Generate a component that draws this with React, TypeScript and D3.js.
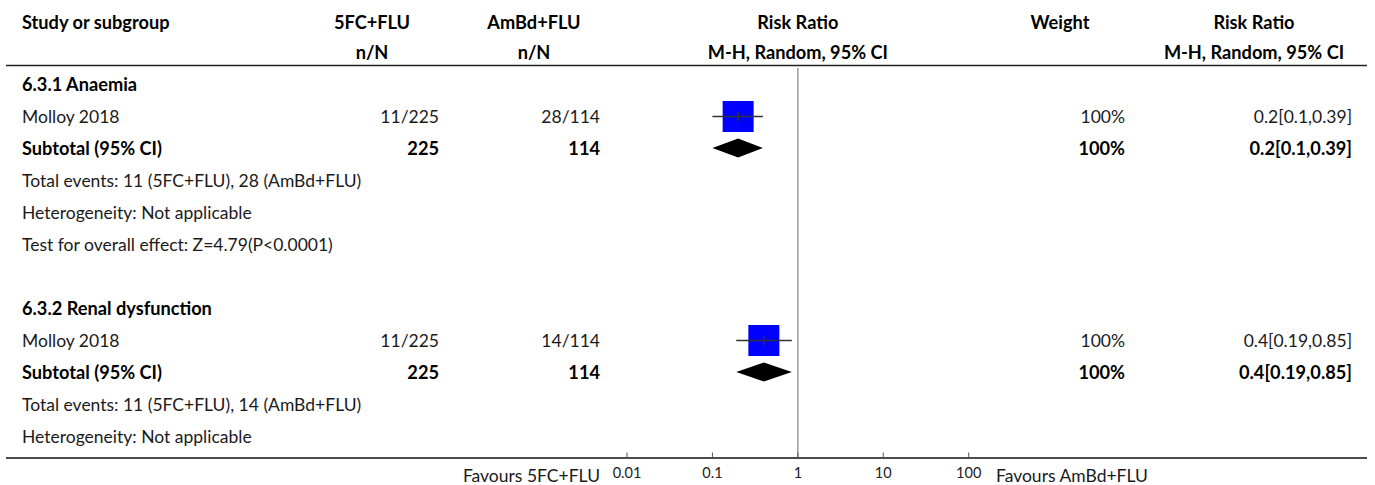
import React from "react";
import * as d3 from "d3";

// ---------- data ----------
const groupTitles = ["6.3.1 Anaemia", "6.3.2 Renal dysfunction"];
const studyNames = ["Molloy 2018", "Molloy 2018"];
const eventsExp = [11, 11];
const totalExp = [225, 225];
const eventsCtl = [28, 14];
const totalCtl = [114, 114];
const weights = [100, 100];
const riskRatios = [0.2, 0.4];
const ciLower = [0.1, 0.19];
const ciUpper = [0.39, 0.85];
const subtotalRR = [0.2, 0.4];
const subtotalLower = [0.1, 0.19];
const subtotalUpper = [0.39, 0.85];
const totalEventsText = [
  "Total events: 11 (5FC+FLU), 28 (AmBd+FLU)",
  "Total events: 11 (5FC+FLU), 14 (AmBd+FLU)",
];
const heterogeneityText = ["Heterogeneity: Not applicable", "Heterogeneity: Not applicable"];
const overallEffectText = ["Test for overall effect: Z=4.79(P<0.0001)", null];
const axisTicks = [0.01, 0.1, 1, 10, 100];
const axisTickLabels = ["0.01", "0.1", "1", "10", "100"];
const favoursLeft = "Favours 5FC+FLU";
const favoursRight = "Favours AmBd+FLU";

// ---------- layout ----------
const W = 1375;
const H = 485;
const FONT = "Lato, 'Source Sans Pro', sans-serif";
const FS = 17.5;
const FSB = 18.2;
const xLeft = 22;
const xExpRight = 439;
const xExpHead = 372;
const xCtlRight = 600;
const xCtlHead = 534;
const xWeightRight = 1125;
const xWeightHead = 1060;
const xRRRight = 1352;
const xRRHead = 1254;
const rowTop = 91;
const rowH = 32;

export default function App() {
  const x = d3.scaleLog().domain([0.01, 100]).range([627, 968.7]);
  const sq = d3.scaleSqrt().domain([0, 100]).range([0, 31]);
  const fmt = (v: number) => String(v);

  type Row = { kind: string; g: number; text?: string };
  const rows: Row[] = [];
  groupTitles.forEach((t, g) => {
    if (g > 0) rows.push({ kind: "blank", g });
    rows.push({ kind: "title", g, text: t });
    rows.push({ kind: "study", g });
    rows.push({ kind: "subtotal", g });
    rows.push({ kind: "note", g, text: totalEventsText[g] });
    rows.push({ kind: "note", g, text: heterogeneityText[g] });
    if (overallEffectText[g]) rows.push({ kind: "note", g, text: overallEffectText[g] as string });
  });

  const yOf = (i: number) => rowTop + i * rowH;
  const lastY = yOf(rows.length - 1);
  const bottomLineY = lastY + 15;
  const x1 = x(1);

  const textStyle = { fontFamily: FONT, fontSize: FS, fill: "#1a1a1a" };
  const bold = { fontFamily: FONT, fontSize: FSB, fontWeight: 700, fill: "#000" };

  return (
    <svg
      width={W}
      height={H}
      style={{ position: "absolute", left: 0, top: 0, background: "#fff" }}
    >
      {/* header */}
      <text x={xLeft} y={29} style={bold}>Study or subgroup</text>
      <text x={xExpHead} y={29} textAnchor="middle" style={bold}>5FC+FLU</text>
      <text x={xExpHead} y={59} textAnchor="middle" style={bold}>n/N</text>
      <text x={xCtlHead} y={29} textAnchor="middle" style={bold}>AmBd+FLU</text>
      <text x={xCtlHead} y={59} textAnchor="middle" style={bold}>n/N</text>
      <text x={x1} y={29} textAnchor="middle" style={bold}>Risk Ratio</text>
      <text x={x1} y={59} textAnchor="middle" style={bold}>M-H, Random, 95% CI</text>
      <text x={xWeightHead} y={29} textAnchor="middle" style={bold}>Weight</text>
      <text x={xRRHead} y={29} textAnchor="middle" style={bold}>Risk Ratio</text>
      <text x={xRRHead} y={59} textAnchor="middle" style={bold}>M-H, Random, 95% CI</text>
      <line x1={6} x2={1367} y1={65.5} y2={65.5} stroke="#222" strokeWidth={1.6} />

      {/* null line */}
      <line x1={x1} x2={x1} y1={68} y2={bottomLineY} stroke="#999" strokeWidth={1.5} />

      {rows.map((r, i) => {
        const y = yOf(i);
        const g = r.g;
        if (r.kind === "title")
          return <text key={i} x={xLeft} y={y} style={bold}>{r.text}</text>;
        if (r.kind === "note")
          return <text key={i} x={xLeft} y={y} style={textStyle}>{r.text}</text>;
        if (r.kind === "study") {
          const cy = y - 6.5;
          const s = sq(weights[g]);
          return (
            <g key={i}>
              <text x={xLeft} y={y} style={textStyle}>{studyNames[g]}</text>
              <text x={xExpRight} y={y} textAnchor="end" style={textStyle}>
                {eventsExp[g]}/{totalExp[g]}
              </text>
              <text x={xCtlRight} y={y} textAnchor="end" style={textStyle}>
                {eventsCtl[g]}/{totalCtl[g]}
              </text>
              <rect x={x(riskRatios[g]) - s / 2} y={cy - s / 2} width={s} height={s} fill="#0000ff" />
              <line x1={x(ciLower[g])} x2={x(ciUpper[g])} y1={cy} y2={cy} stroke="#333" strokeWidth={1.4} />
              <line x1={x(riskRatios[g])} x2={x(riskRatios[g])} y1={cy - 4.5} y2={cy + 4.5} stroke="#333" strokeWidth={1.4} />
              <text x={xWeightRight} y={y} textAnchor="end" style={textStyle}>{weights[g]}%</text>
              <text x={xRRRight} y={y} textAnchor="end" style={textStyle}>
                {fmt(riskRatios[g])}[{fmt(ciLower[g])},{fmt(ciUpper[g])}]
              </text>
            </g>
          );
        }
        if (r.kind === "subtotal") {
          const cy = y - 7;
          const xl = x(subtotalLower[g]);
          const xr = x(subtotalUpper[g]);
          const xm = x(subtotalRR[g]);
          const hh = 9.5;
          return (
            <g key={i}>
              <text x={xLeft} y={y} style={bold}>Subtotal (95% CI)</text>
              <text x={xExpRight} y={y} textAnchor="end" style={bold}>{totalExp[g]}</text>
              <text x={xCtlRight} y={y} textAnchor="end" style={bold}>{totalCtl[g]}</text>
              <path d={`M${xl},${cy} L${xm},${cy - hh} L${xr},${cy} L${xm},${cy + hh} Z`} fill="#000" />
              <text x={xWeightRight} y={y} textAnchor="end" style={bold}>
                {d3.sum(weights.filter((_, k) => k === g))}%
              </text>
              <text x={xRRRight} y={y} textAnchor="end" style={bold}>
                {fmt(subtotalRR[g])}[{fmt(subtotalLower[g])},{fmt(subtotalUpper[g])}]
              </text>
            </g>
          );
        }
        return null;
      })}

      {/* bottom axis */}
      <line x1={6} x2={1367} y1={bottomLineY} y2={bottomLineY} stroke="#111" strokeWidth={1.6} />
      {axisTicks.map((t, k) => (
        <g key={k}>
          <line x1={x(t)} x2={x(t)} y1={bottomLineY - 5.5} y2={bottomLineY} stroke="#555" strokeWidth={1} />
          <text
            x={x(t)}
            y={478}
            textAnchor="middle"
            style={{ fontFamily: FONT, fontSize: 14.5, fill: "#222" }}
          >
            {axisTickLabels[k]}
          </text>
        </g>
      ))}
      <text x={600} y={482} textAnchor="end" style={textStyle}>{favoursLeft}</text>
      <text x={996} y={482} style={textStyle}>{favoursRight}</text>
    </svg>
  );
}
